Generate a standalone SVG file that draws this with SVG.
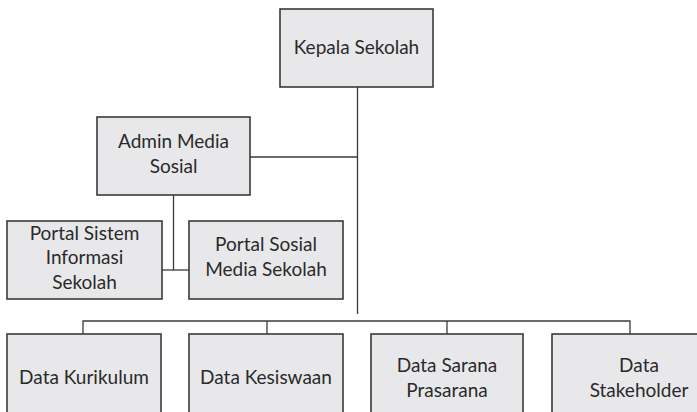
<svg xmlns="http://www.w3.org/2000/svg" width="697" height="412" viewBox="0 0 697 412">
<style>
.box{fill:#e8e8ea;stroke:#3a3a3a;stroke-width:1.6}
.t{font-family:Lato,"Open Sans","Liberation Sans",sans-serif;font-size:19px;fill:#2a2a2a;text-anchor:middle}
.c{fill:none;stroke:#3a3a3a;stroke-width:1.3}
</style>
<rect width="697" height="412" fill="#ffffff"/>
<g id="connectors">
<path class="c" d="M357.5 87 V314"/>
<path class="c" d="M250 157 H357.5"/>
<path class="c" d="M173.5 195 V270"/>
<path class="c" d="M162 270 H189"/>
<path class="c" d="M83 334 V321 H630 V334"/>
<path class="c" d="M267 321 V334"/>
<path class="c" d="M447 321 V334"/>
</g>
<g id="kepala">
<rect class="box" x="280" y="9" width="153" height="78"/>
<text class="t" x="356.5" y="54">Kepala Sekolah</text>
</g>
<g id="admin">
<rect class="box" x="97" y="117" width="153" height="78"/>
<text class="t" x="173.5" y="148">Admin Media</text>
<text class="t" x="173.5" y="173">Sosial</text>
</g>
<g id="portal-sistem">
<rect class="box" x="7" y="221" width="155" height="78"/>
<text class="t" x="84.5" y="240">Portal Sistem</text>
<text class="t" x="84.5" y="264">Informasi</text>
<text class="t" x="84.5" y="289">Sekolah</text>
</g>
<g id="portal-sosial">
<rect class="box" x="189" y="221" width="154" height="78"/>
<text class="t" x="266" y="251">Portal Sosial</text>
<text class="t" x="266" y="276">Media Sekolah</text>
</g>
<g id="kurikulum">
<rect class="box" x="7" y="334" width="154" height="90"/>
<text class="t" x="84" y="384">Data Kurikulum</text>
</g>
<g id="kesiswaan">
<rect class="box" x="189" y="334" width="154" height="90"/>
<text class="t" x="266" y="384">Data Kesiswaan</text>
</g>
<g id="sarana">
<rect class="box" x="371" y="334" width="152" height="90"/>
<text class="t" x="447" y="372">Data Sarana</text>
<text class="t" x="447" y="397">Prasarana</text>
</g>
<g id="stakeholder">
<rect class="box" x="552" y="334" width="175" height="90"/>
<text class="t" x="639" y="372">Data</text>
<text class="t" x="639" y="397">Stakeholder</text>
</g>
</svg>
